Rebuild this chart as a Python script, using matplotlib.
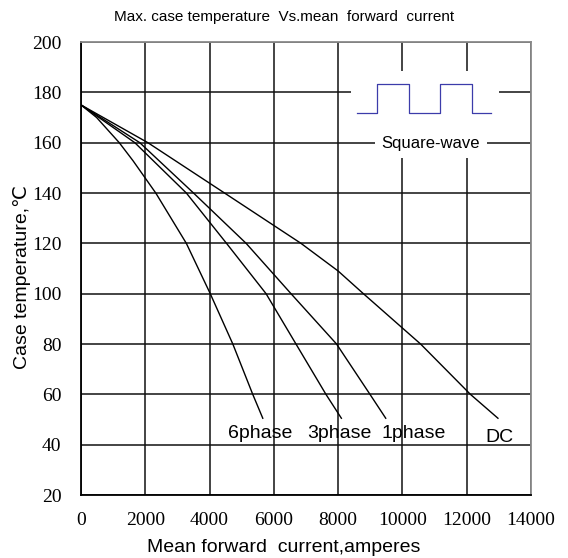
import matplotlib
matplotlib.use('Agg')
import matplotlib.pyplot as plt
from matplotlib.patches import Rectangle

# curvas (corrente media em A, temperatura em C)
i_6phase = [0, 486, 1190, 1620, 2326, 3277, 4021, 4723, 5343, 5655]
t_6phase = [175, 170, 160, 152.8, 140, 120, 100, 80, 60, 50.5]

i_3phase = [0, 1674, 3277, 4527, 5757, 6688, 7620, 8100]
t_3phase = [175, 160, 140, 120, 100, 80, 60, 50.5]

i_1phase = [0, 1829, 3500, 5137, 6533, 7950, 8990, 9480]
t_1phase = [175, 160, 140, 120, 100, 80, 60, 50.5]

i_dc = [0, 2080, 4465, 6843, 8000, 8785, 10564, 12114, 12971]
t_dc = [175, 160, 140, 120, 109, 100, 80, 60, 50.5]

# onda quadrada do detalhe
onda_x = [8589, 9209, 9209, 10202, 10202, 11163, 11163, 12155, 12155, 12744]
onda_y = [171.8, 171.8, 183.3, 183.3, 171.8, 171.8, 183.3, 183.3, 171.8, 171.8]

xticks = [0, 2000, 4000, 6000, 8000, 10000, 12000, 14000]
yticks = [20, 40, 60, 80, 100, 120, 140, 160, 180, 200]

sans = ['Liberation Sans', 'DejaVu Sans']

fig = plt.figure(figsize=(5.68, 5.58), dpi=100)
ax = fig.add_axes([0.1426, 0.1129, 0.7923, 0.8118])

ax.plot(i_6phase, t_6phase, color='black', lw=1.0, zorder=3)
ax.plot(i_3phase, t_3phase, color='black', lw=1.0, zorder=3)
ax.plot(i_1phase, t_1phase, color='black', lw=1.0, zorder=3)
ax.plot(i_dc, t_dc, color='black', lw=1.0, zorder=3)

ax.set_xlim(0, 14000)
ax.set_ylim(20, 200)
ax.set_xticks(xticks)
ax.set_yticks(yticks)
ax.set_axisbelow(True)
ax.grid(True, color='#111111', lw=1.1)

ax.tick_params(length=0, labelsize=14)
ax.tick_params(axis='x', pad=12)
ax.tick_params(axis='y', pad=14)
for lab in ax.get_xticklabels() + ax.get_yticklabels():
    lab.set_family('Liberation Serif')

ax.spines['top'].set_color('#8a8a8a')
ax.spines['right'].set_color('#8a8a8a')
ax.spines['left'].set_color('black')
ax.spines['bottom'].set_color('black')
for s in ax.spines.values():
    s.set_linewidth(1.3)

# area branca do detalhe da onda quadrada
ax.add_patch(Rectangle((8403, 162.7), 4589, 25.7, facecolor='white', edgecolor='none', zorder=1))
ax.plot(onda_x, onda_y, color='#3c3caa', lw=0.9, zorder=3)
ax.text(10884, 159.5, 'Square-wave', ha='center', va='center', fontsize=12, family=sans,
        bbox=dict(boxstyle='square,pad=0.4', facecolor='white', edgecolor='none'), zorder=2)

# nomes das curvas
ax.text(5581, 44.3, '6phase', ha='center', va='center', fontsize=14, family=sans, zorder=4)
ax.text(8031, 44.3, '3phase', ha='center', va='center', fontsize=14, family=sans, zorder=4)
ax.text(10357, 44.3, '1phase', ha='center', va='center', fontsize=14, family=sans, zorder=4)
ax.text(13023, 42.7, 'DC', ha='center', va='center', fontsize=14, family=sans, zorder=4)

fig.text(0.5, 1 - 17 / 558, 'Max. case temperature  Vs.mean  forward  current',
         ha='center', va='center', fontsize=11, family=sans)
fig.text(0.5, 1 - 547 / 558, 'Mean forward  current,amperes',
         ha='center', va='center', fontsize=14, family=sans)
fig.text(22 / 568, 1 - 277 / 558, 'Case temperature,℃', rotation=90,
         ha='center', va='center', fontsize=14, family=sans)

fig.savefig('out.png', dpi=100)
